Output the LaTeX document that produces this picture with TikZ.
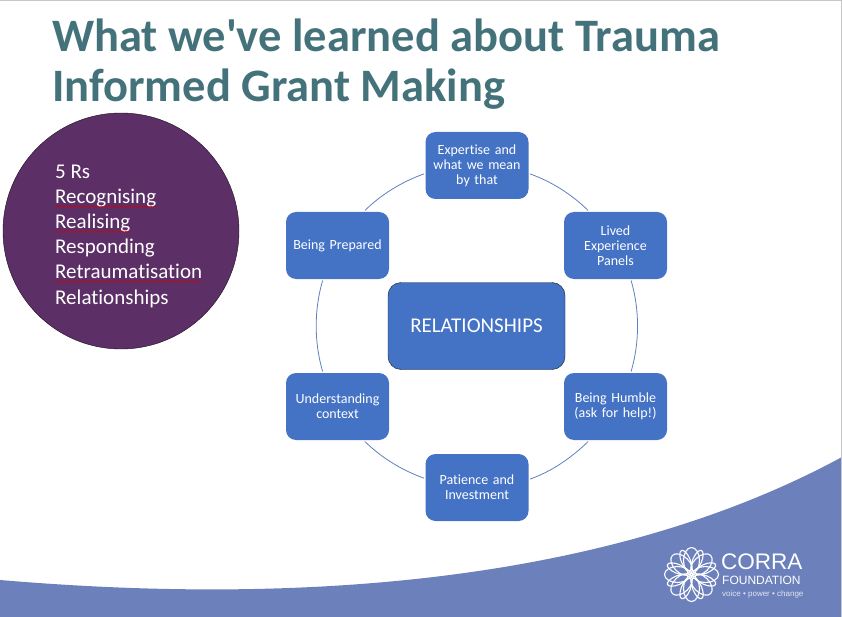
\documentclass[tikz,border=0pt]{standalone}
\usepackage{fontspec}
\setmainfont{Carlito}[Ligatures=CommonOff]
\newfontfamily\logofont{Liberation Sans}
\usepackage{tikz}
\usetikzlibrary{decorations.pathmorphing}
\definecolor{titleTeal}{HTML}{44727A}
\definecolor{boxBlue}{HTML}{4472C4}
\definecolor{ringBlue}{HTML}{5F80BC}
\definecolor{circlePurple}{HTML}{5C2F66}
\definecolor{bandBlue}{HTML}{6C80BC}
\definecolor{edgeGrey}{HTML}{C6C6C6}
\tikzstyle{block} = [rectangle, rounded corners = 10pt, fill=boxBlue, text=white, text width = 100pt, align = center, minimum width = 103pt, minimum height = 67pt, inner sep = 0pt, outer sep = 1.5pt, font = \fontsize{14}{15}\selectfont]
\tikzstyle{blockMain} = [rectangle, rounded corners = 13pt, draw = black!80!boxBlue, fill=boxBlue, text=white, minimum width = 177pt, minimum height = 87pt, font = \fontsize{21}{22}\selectfont]
\tikzstyle{rsline} = [anchor = base west, inner sep = 0pt, text = white, text depth = 2.5pt, font = \fontsize{21}{24}\selectfont]
\tikzstyle{title} = [anchor = base west, inner sep = 0pt, text = titleTeal, font = \fontsize{46.5}{50}\bfseries\selectfont]
\tikzstyle{line} = [ringBlue, line width = .8pt, looseness = .86]
\tikzstyle{squiggle} = [red!85!black, line width = .45pt, decorate, decoration = {snake, amplitude = .8pt, segment length = 3.5pt}]
\tikzstyle{logo} = [anchor = base west, inner sep = 0pt, text = white]
\tikzstyle{petal} = [white, line width = 1.1pt]
\begin{document}
\begin{tikzpicture}[x=1pt, y=-1pt]
        \useasboundingbox (0,0) rectangle (842,617);
        % band and page edges
        \fill[bandBlue] (0,580) .. controls (190,596) and (560,610) .. (842,457) -- (842,617) -- (0,617) -- cycle;
        \fill[edgeGrey] (0,0) rectangle (842,1.5);
        \fill[edgeGrey] (840.5,0) rectangle (842,617);
        % title
        \node(titleA) [title] at (52,52) {What we\textquotesingle ve learned about Trauma};
        \node(titleB) [title] at (52,102) {Informed Grant Making};
        % 5 Rs
        \node(fiveRs) [circle, draw = black!70!circlePurple, fill = circlePurple, minimum size = 236pt, inner sep = 0pt] at (121,231) {};
        \node(rsHead) [rsline] at (55,179) {5 Rs};
        \node(rsRec) [rsline] at (55,204) {Recognising};
        \node(rsRea) [rsline] at (55,229) {Realising};
        \node(rsRes) [rsline] at (55,254) {Responding};
        \node(rsRet) [rsline] at (55,279) {Retraumatisation};
        \node(rsRel) [rsline] at (55,304) {Relationships};
        \draw[squiggle] (rsRec.south west) -- (rsRec.south east);
        \draw[squiggle] (rsRea.south west) -- (rsRea.south east);
        \draw[squiggle] (rsRet.south west) -- (rsRet.south east);
        % cycle
        \node(main) [blockMain] at (476.500,326) {RELATIONSHIPS};
        \node(expertise) [block] at (477,165.500) {Expertise and\\what we mean\\by that};
        \node(lived) [block] at (615.500,245.500) {Lived\\Experience\\Panels};
        \node(humble) [block] at (615.500,406.500) {Being Humble\\(ask for help!)};
        \node(patience) [block] at (477,487.500) {Patience and\\Investment};
        \node(context) [block] at (337.500,406.500) {Understanding\\context};
        \node(prepared) [block] at (337.500,245.500) {Being Prepared};
        \draw[line] (expertise.-9.4) to[out = -19.6, in = 135.8] (lived.128);
        \draw[line] (lived.-66.9) to[out = -73.6, in = 73.6] (humble.66.9);
        \draw[line] (humble.-128) to[out = -135.8, in = 19.6] (patience.9.4);
        \draw[line] (patience.170.6) to[out = 160.4, in = -44.2] (context.-52);
        \draw[line] (context.113.1) to[out = 106.4, in = -106.4] (prepared.-113.1);
        \draw[line] (prepared.52) to[out = 44.2, in = 199.6] (expertise.189.4);
        % logo
        \coordinate (flower) at (691.500,574.500);
        \foreach \a in {0,45,...,315} {
            \draw[petal, rotate around = {\a:(flower)}] (flower) ++(0,-14) ellipse [x radius = 8, y radius = 13];
            \draw[petal, rotate around = {\a+22.5:(flower)}] (flower) ++(0,-15) ellipse [x radius = 4.500, y radius = 11];
        }
        \node(corra) [logo, font = \logofont\fontsize{22.5}{24}\selectfont] at (721,569.500) {CORRA};
        \node(foundation) [logo, font = \logofont\fontsize{12}{13}\selectfont] at (722,584.500) {FOUNDATION};
        \node(voice) [logo, font = \logofont\fontsize{8}{9}\selectfont, text = white!80!bandBlue] at (722,596) {voice • power • change};
\end{tikzpicture}
\end{document}
